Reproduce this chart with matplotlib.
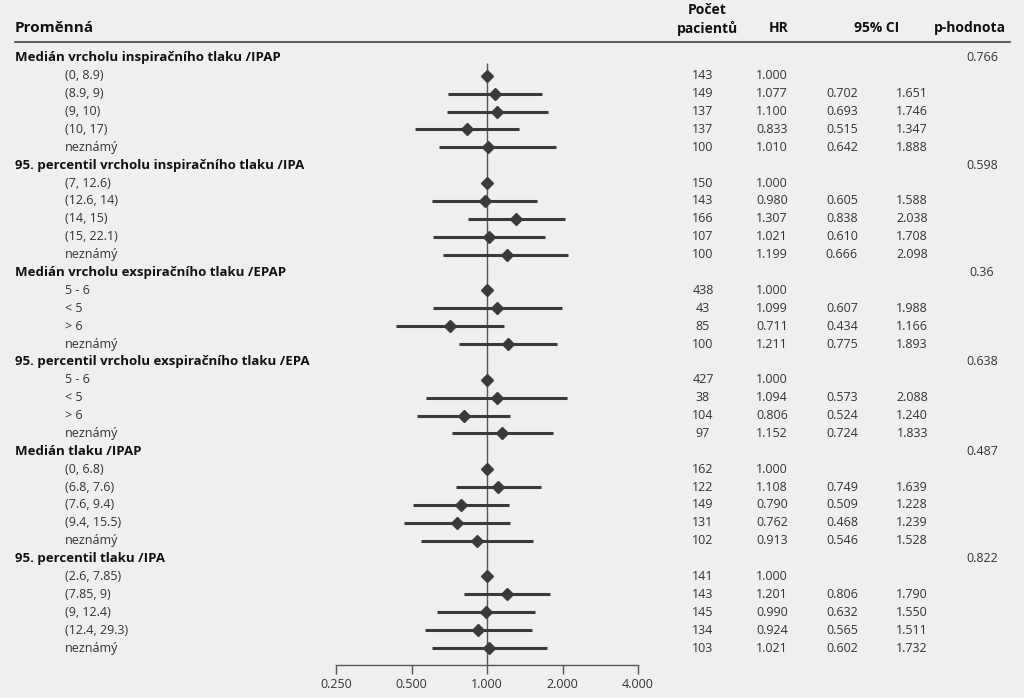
import matplotlib
matplotlib.use('Agg')
import matplotlib.pyplot as plt
from matplotlib.lines import Line2D
from matplotlib.transforms import blended_transform_factory

# forest plot data
group_names = ['Medián vrcholu inspiračního tlaku /IPAP',
               '95. percentil vrcholu inspiračního tlaku /IPA',
               'Medián vrcholu exspiračního tlaku /EPAP',
               '95. percentil vrcholu exspiračního tlaku /EPA',
               'Medián tlaku /IPAP',
               '95. percentil tlaku /IPA']
group_p = [0.766, 0.598, 0.36, 0.638, 0.487, 0.822]
levels = [['(0, 8.9)', '(8.9, 9)', '(9, 10)', '(10, 17)', 'neznámý'],
          ['(7, 12.6)', '(12.6, 14)', '(14, 15)', '(15, 22.1)', 'neznámý'],
          ['5 - 6', '< 5', '> 6', 'neznámý'],
          ['5 - 6', '< 5', '> 6', 'neznámý'],
          ['(0, 6.8)', '(6.8, 7.6)', '(7.6, 9.4)', '(9.4, 15.5)', 'neznámý'],
          ['(2.6, 7.85)', '(7.85, 9)', '(9, 12.4)', '(12.4, 29.3)', 'neznámý']]
n_patients = [[143, 149, 137, 137, 100],
              [150, 143, 166, 107, 100],
              [438, 43, 85, 100],
              [427, 38, 104, 97],
              [162, 122, 149, 131, 102],
              [141, 143, 145, 134, 103]]
hr = [[1.000, 1.077, 1.100, 0.833, 1.010],
      [1.000, 0.980, 1.307, 1.021, 1.199],
      [1.000, 1.099, 0.711, 1.211],
      [1.000, 1.094, 0.806, 1.152],
      [1.000, 1.108, 0.790, 0.762, 0.913],
      [1.000, 1.201, 0.990, 0.924, 1.021]]
ci_low = [[None, 0.702, 0.693, 0.515, 0.642],
          [None, 0.605, 0.838, 0.610, 0.666],
          [None, 0.607, 0.434, 0.775],
          [None, 0.573, 0.524, 0.724],
          [None, 0.749, 0.509, 0.468, 0.546],
          [None, 0.806, 0.632, 0.565, 0.602]]
ci_high = [[None, 1.651, 1.746, 1.347, 1.888],
           [None, 1.588, 2.038, 1.708, 2.098],
           [None, 1.988, 1.166, 1.893],
           [None, 2.088, 1.240, 1.833],
           [None, 1.639, 1.228, 1.239, 1.528],
           [None, 1.790, 1.550, 1.511, 1.732]]
x_ticks = [0.25, 0.5, 1, 2, 4]
x_ticklabels = ['0.250', '0.500', '1.000', '2.000', '4.000']

plt.rcParams['font.family'] = ['Open Sans', 'DejaVu Sans']
bg = '#efefef'
dark = '#3a3a3a'
W, H = 1024, 698

fig = plt.figure(figsize=(W / 100, H / 100), dpi=100, facecolor=bg)
ax = fig.add_axes([336 / W, (H - 665) / H, (638 - 336) / W, (665 - 40) / H])
ax.set_facecolor(bg)
ax.set_xscale('log', base=2)
ax.set_xlim(0.25, 4)
ax.set_ylim(33.95, -1.0)
for s in ['top', 'right', 'left']:
    ax.spines[s].set_visible(False)
ax.spines['bottom'].set_color('#555555')
ax.spines['bottom'].set_linewidth(1)
ax.set_yticks([])
ax.set_xticks(x_ticks)
ax.set_xticklabels(x_ticklabels)
ax.minorticks_off()
ax.tick_params(axis='x', direction='out', length=6.5, width=1, color='#555555',
               labelsize=9, labelcolor='#333333', pad=3)

ax.vlines(1, 0.3, 33.95, color='#555555', lw=1)

tr = blended_transform_factory(fig.transFigure, ax.transData)
txt_col = '#333333'
row = 0
for g in range(len(group_names)):
    ax.text(15 / W, row, group_names[g], transform=tr, ha='left', va='center',
            fontsize=9.5, fontweight='bold', color='#111111')
    ax.text(982 / W, row, str(group_p[g]), transform=tr, ha='center', va='center',
            fontsize=9, color=txt_col)
    row += 1
    for i in range(len(levels[g])):
        ax.text(65 / W, row, levels[g][i], transform=tr, ha='left', va='center',
                fontsize=9, color=txt_col)
        ax.text(703 / W, row, str(n_patients[g][i]), transform=tr, ha='center',
                va='center', fontsize=9, color=txt_col)
        ax.text(788 / W, row, '%.3f' % hr[g][i], transform=tr, ha='right',
                va='center', fontsize=9, color=txt_col)
        if ci_low[g][i] is not None:
            ax.text(858 / W, row, '%.3f' % ci_low[g][i], transform=tr, ha='right',
                    va='center', fontsize=9, color=txt_col)
            ax.text(928 / W, row, '%.3f' % ci_high[g][i], transform=tr, ha='right',
                    va='center', fontsize=9, color=txt_col)
            ax.plot([ci_low[g][i], ci_high[g][i]], [row, row], color=dark,
                    lw=2.2, solid_capstyle='butt')
        ax.plot(hr[g][i], row, marker='D', markersize=6, color=dark, zorder=3)
        row += 1

# header
hy = lambda p: 1 - p / H
fig.text(15 / W, hy(28), 'Proměnná', ha='left', va='center', fontsize=11,
         fontweight='bold', color='#111111')
fig.text(707 / W, hy(10), 'Počet', ha='center', va='center', fontsize=10,
         fontweight='bold', color='#111111')
fig.text(707 / W, hy(28), 'pacientů', ha='center', va='center', fontsize=10,
         fontweight='bold', color='#111111')
fig.text(788 / W, hy(28), 'HR', ha='right', va='center', fontsize=10,
         fontweight='bold', color='#111111')
fig.text(877 / W, hy(28), '95% CI', ha='center', va='center', fontsize=10,
         fontweight='bold', color='#111111')
fig.text(970 / W, hy(28), 'p-hodnota', ha='center', va='center', fontsize=10,
         fontweight='bold', color='#111111')
fig.add_artist(Line2D([15 / W, 1010 / W], [hy(42), hy(42)], color='#444444', lw=1.2))

fig.savefig('out.png', dpi=100, facecolor=bg)
